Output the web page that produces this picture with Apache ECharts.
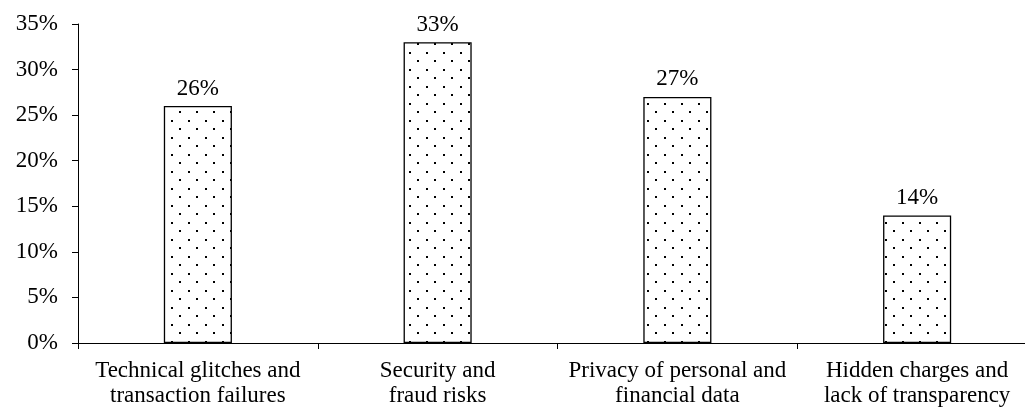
<!DOCTYPE html>
<html>
<head>
<meta charset="utf-8">
<script src="https://cdn.jsdelivr.net/npm/echarts@6/dist/echarts.min.js"></script>
<style>
  html, body { margin: 0; padding: 0; background: #fff; overflow: hidden; }
  #chart { width: 1037px; height: 412px; }
</style>
</head>
<body>
<div id="chart"></div>
<script>
const categories = [
  "Technical glitches and\ntransaction failures",
  "Security and\nfraud risks",
  "Privacy of personal and\nfinancial data",
  "Hidden charges and\nlack of transparency"
];
const values = [26, 33, 27, 14];
const yTicks = { min: 0, max: 35, interval: 5 };

// dotted fill like the original
function dotPattern() {
  const c = document.createElement("canvas");
  c.width = 17;
  c.height = 17;
  const ctx = c.getContext("2d");
  ctx.fillStyle = "#fff";
  ctx.fillRect(0, 0, 17, 17);
  ctx.fillStyle = "#000";
  ctx.fillRect(1, 1, 2, 2);
  ctx.fillRect(9, 9, 2, 2);
  return c;
}

const font = "Liberation Serif";
const chart = echarts.init(document.getElementById("chart"));
chart.setOption({
  animation: false,
  grid: { left: 78, right: 0, top: 24, bottom: 69 },
  xAxis: {
    type: "category",
    data: categories,
    axisLine: { lineStyle: { color: "#000", width: 1 } },
    axisTick: { show: true, length: 6, lineStyle: { color: "#000" } },
    axisLabel: {
      color: "#000",
      fontFamily: font,
      fontSize: 23,
      lineHeight: 25,
      margin: 15,
      interval: 0
    }
  },
  yAxis: {
    type: "value",
    min: yTicks.min,
    max: yTicks.max,
    interval: yTicks.interval,
    axisLine: { show: true, lineStyle: { color: "#000", width: 1 } },
    axisTick: { show: true, length: 6, lineStyle: { color: "#000" } },
    splitLine: { show: false },
    axisLabel: {
      color: "#000",
      fontFamily: font,
      fontSize: 23,
      margin: 20,
      formatter: "{value}%"
    }
  },
  series: [
    {
      type: "bar",
      data: values,
      barWidth: "28.4%",
      itemStyle: {
        color: { image: dotPattern(), repeat: "repeat" },
        borderColor: "#000",
        borderWidth: 1.3
      },
      label: {
        show: true,
        position: "top",
        distance: 6,
        color: "#000",
        fontFamily: font,
        fontSize: 23,
        formatter: "{c}%"
      }
    }
  ]
});
</script>
</body>
</html>
